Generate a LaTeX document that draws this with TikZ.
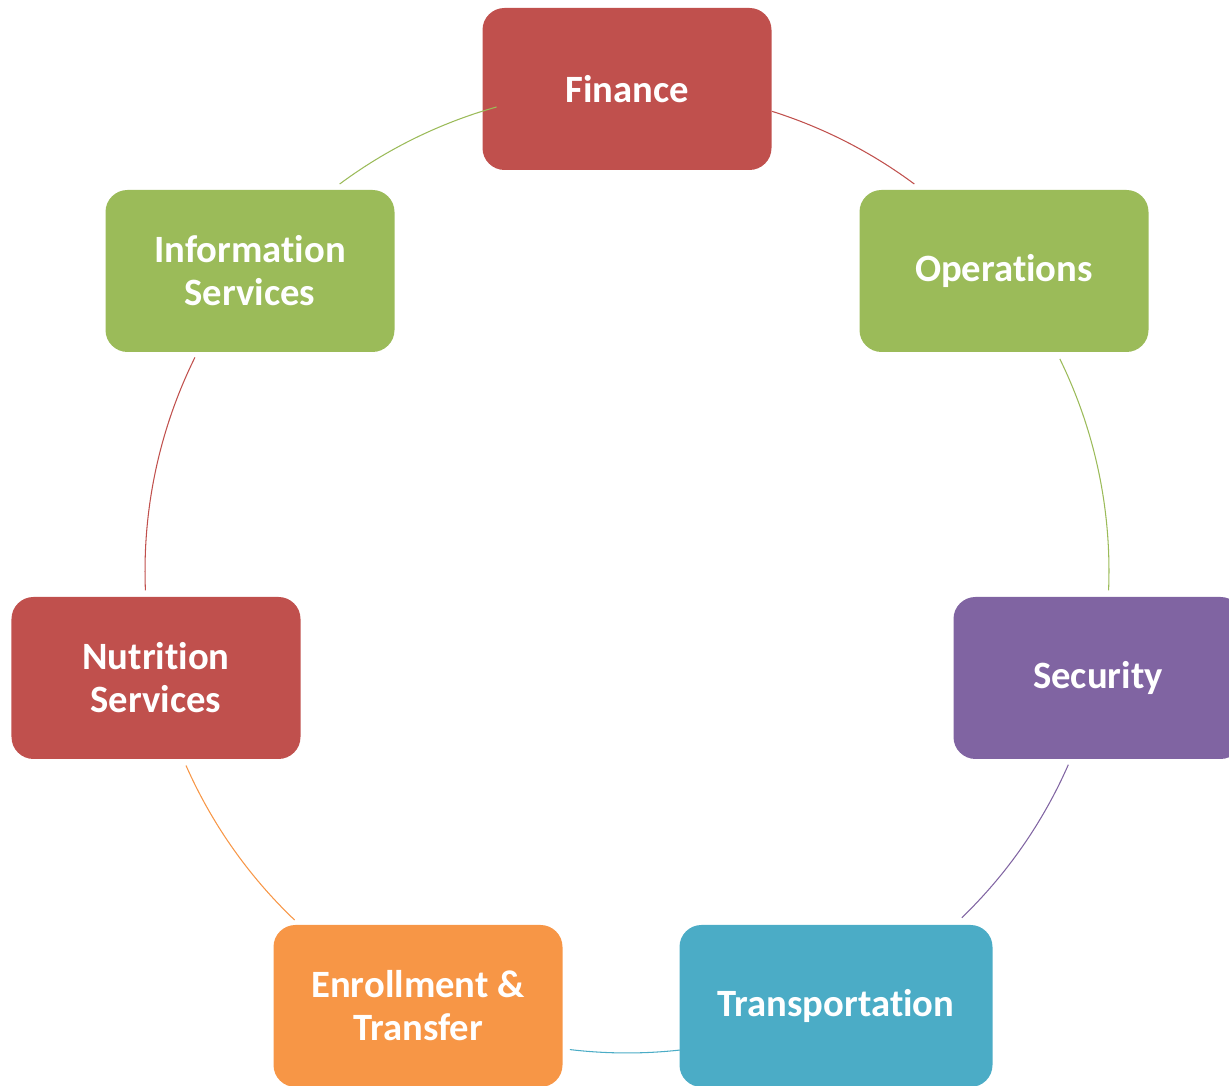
\documentclass[tikz,border=0pt]{standalone}
\usepackage{fontspec}
\setmainfont[Ligatures=NoCommon]{Carlito}
\usepackage{tikz}
\usetikzlibrary{calc,positioning}
\usepackage{xcolor}

\definecolor{accred}{HTML}{C0504D}
\definecolor{accgreen}{HTML}{9BBB59}
\definecolor{accpurple}{HTML}{8064A2}
\definecolor{accteal}{HTML}{4BACC6}
\definecolor{accorange}{HTML}{F79646}

\begin{document}
\begin{tikzpicture}[
  dept/.style={rounded corners=0.44cm, minimum width=5.78cm, minimum height=3.24cm, align=center, text=white, inner sep=0pt, font=\fontsize{22}{24.5}\selectfont\bfseries},
  link/.style={line width=0.6pt}
]
\useasboundingbox (0,0) rectangle (24.58,21.72);
\clip (0,0) rectangle (24.58,21.72);
\coordinate (c) at (12.54,10.30);

\node[dept, fill=accred] (fin) at (12.54,19.94) {Finance};
\node[dept, fill=accgreen] (ops) at (20.08,16.30) {Operations};
\node[dept, fill=accpurple] (sec) at (21.96,8.16) {Security};
\node[dept, fill=accteal, minimum width=6.26cm] (trn) at (16.72,1.60) {Transportation};
\node[dept, fill=accorange] (enr) at (8.36,1.60) {Enrollment \&\\Transfer};
\node[dept, fill=accred] (nut) at (3.12,8.16) {Nutrition\\Services};
\node[dept, fill=accgreen] (inf) at (5.00,16.30) {Information\\Services};

% cycle arcs, coloured after the box they leave
\draw[link, accred] ($(c)+(72.5:9.64)$) arc[start angle=72.5, end angle=53.4, radius=9.64];
\draw[link, accgreen] ($(c)+(26.1:9.64)$) arc[start angle=26.1, end angle=-2.3, radius=9.64];
\draw[link, accpurple] ($(c)+(-23.7:9.64)$) arc[start angle=-23.7, end angle=-46.0, radius=9.64];
\draw[link, accteal] ($(c)+(-83.7:9.64)$) arc[start angle=-83.7, end angle=-96.8, radius=9.64];
\draw[link, accorange] ($(c)+(-133.6:9.64)$) arc[start angle=-133.6, end angle=-156.2, radius=9.64];
\draw[link, accred] ($(c)+(182.3:9.64)$) arc[start angle=182.3, end angle=153.7, radius=9.64];
\draw[link, accgreen] ($(c)+(126.6:9.64)$) arc[start angle=126.6, end angle=105.7, radius=9.64];
\end{tikzpicture}
\end{document}
